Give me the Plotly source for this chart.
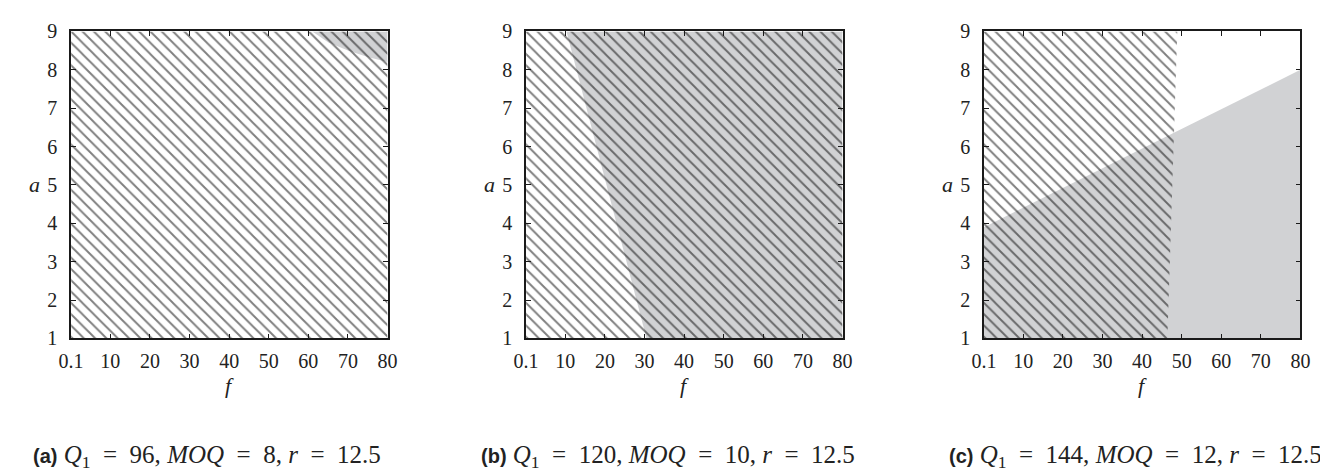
import plotly.graph_objects as go

# ---------------- data ----------------
f_tickvals = [0.1, 10, 20, 30, 40, 50, 60, 70, 80]
f_ticktext = ["0.1", "10", "20", "30", "40", "50", "60", "70", "80"]
a_tickvals = [1, 2, 3, 4, 5, 6, 7, 8, 9]
f_range = [0.1, 80]
a_range = [1, 9]

# panel (a)
hatch_a_f = [0.1, 80, 80, 0.1]
hatch_a_a = [1, 1, 9, 9]
gray_a_f = [61, 65, 70, 75, 80, 80]
gray_a_a = [9, 8.72, 8.5, 8.33, 8.2, 9]

# panel (b)
hatch_b_f = [0.1, 80, 80, 0.1]
hatch_b_a = [1, 1, 9, 9]
gray_b_f = [10.3, 80, 80, 30.5]
gray_b_a = [9, 9, 1, 1]

# panel (c)
hatch_c_f = [0.1, 46.4, 48.9, 0.1]
hatch_c_a = [1, 1, 9, 9]
gray_c_f = [0.1, 80, 80, 0.1]
gray_c_a = [1, 1, 8.0, 3.9]

captions = [
    ("(a)", "96", "8", "12.5"),
    ("(b)", "120", "10", "12.5"),
    ("(c)", "144", "12", "12.5"),
]

# ---------------- layout geometry (pixels) ----------------
W, H = 1328, 475
panel_left_px = [51, 514, 980]
caption_left_px = [10, 466, 942]
panel_w_px = 322
top_px, bottom_px = 13, 335
GRAY = "#d1d2d4"
INK = "#000000"

fig = go.Figure()

panels = [
    (gray_a_f, gray_a_a, hatch_a_f, hatch_a_a),
    (gray_b_f, gray_b_a, hatch_b_f, hatch_b_a),
    (gray_c_f, gray_c_a, hatch_c_f, hatch_c_a),
]

for i, (gf, ga, hf, ha) in enumerate(panels):
    xa = "x" if i == 0 else f"x{i+1}"
    ya = "y" if i == 0 else f"y{i+1}"
    fig.add_trace(go.Scatter(
        x=gf, y=ga, mode="lines", fill="toself", fillcolor=GRAY,
        line=dict(width=0, color=GRAY), hoverinfo="skip", showlegend=False,
        xaxis=xa, yaxis=ya))
    fig.add_trace(go.Scatter(
        x=hf, y=ha, mode="lines", fill="toself", fillcolor="rgba(0,0,0,0)",
        fillpattern=dict(shape="\\", fgcolor=INK, bgcolor="rgba(0,0,0,0)",
                         size=8, solidity=0.24, fillmode="overlay"),
        line=dict(width=0, color="rgba(0,0,0,0)"), hoverinfo="skip",
        showlegend=False, xaxis=xa, yaxis=ya))

tickfont = dict(family="Liberation Serif", size=20, color="#222")
layout = dict(
    width=W, height=H, autosize=False,
    margin=dict(l=0, r=0, t=0, b=0),
    paper_bgcolor="white", plot_bgcolor="white",
    showlegend=False,
)
ydom = [1 - bottom_px / H, 1 - top_px / H]
for i, lpx in enumerate(panel_left_px):
    sx = "" if i == 0 else str(i + 1)
    layout[f"xaxis{sx}"] = dict(
        domain=[lpx / W, (lpx + panel_w_px) / W], range=f_range,
        anchor=f"y{sx}", tickvals=f_tickvals, ticktext=f_ticktext,
        ticks="inside", ticklen=5, tickwidth=1, tickcolor="#1a1a1a",
        showline=True, linewidth=1.5, linecolor="#1a1a1a", mirror="ticks",
        showgrid=False, zeroline=False, tickfont=tickfont,
        ticklabelstandoff=4, fixedrange=True)
    layout[f"yaxis{sx}"] = dict(
        domain=ydom, range=a_range, anchor=f"x{sx}",
        tickvals=a_tickvals, ticks="inside", ticklen=5, tickwidth=1,
        tickcolor="#1a1a1a", showline=True, linewidth=1.5, linecolor="#1a1a1a",
        mirror="ticks", showgrid=False, zeroline=False, tickfont=tickfont,
        ticklabelstandoff=8, fixedrange=True)
fig.update_layout(**layout)

# axis titles and captions
ann = []
SP = "&#8194;"
for i, lpx in enumerate(panel_left_px):
    cx = (lpx + panel_w_px / 2) / W
    ann.append(dict(x=(lpx - 37) / W, y=1 - 174 / H, xref="paper", yref="paper",
                    text="<i>a</i>", showarrow=False, xanchor="center", yanchor="middle",
                    font=dict(family="Liberation Serif", size=22, color="#222")))
    ann.append(dict(x=cx, y=1 - 384 / H, xref="paper", yref="paper",
                    text="<i>f</i>", showarrow=False, xanchor="center", yanchor="middle",
                    font=dict(family="Liberation Serif", size=22, color="#222")))
    lab, q, m, r = captions[i]
    txt = (f'<span style="font-family:Liberation Sans;font-weight:bold;font-size:20px">{lab}</span> '
           f'<i>Q</i><sub>1</sub>{SP}={SP}{q}, <i>MOQ</i>{SP}={SP}{m}, <i>r</i>{SP}={SP}{r}')
    ann.append(dict(x=caption_left_px[i] / W, y=1 - 459 / H, xref="paper", yref="paper",
                    text=txt, showarrow=False, xanchor="left", yanchor="middle",
                    font=dict(family="Liberation Serif", size=25, color="#222")))
fig.update_layout(annotations=ann)

fig.write_html("out.html")
